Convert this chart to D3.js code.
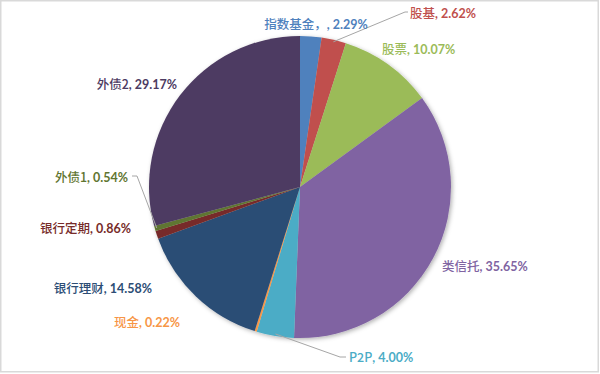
<!DOCTYPE html>
<html>
<head>
<meta charset="utf-8">
<script src="https://cdn.jsdelivr.net/npm/d3@7"></script>
<style>
body { margin: 0; background: #fff; }
</style>
</head>
<body>
<div id="chart"></div>
<script>
var svgWidth = 600;
var svgHeight = 374;

// data
var names = ["指数基金，", "股基", "股票", "类信托", "P2P", "现金", "银行理财", "银行定期", "外债1", "外债2"];
var values = [2.29, 2.62, 10.07, 35.65, 4.00, 0.22, 14.58, 0.86, 0.54, 29.17];
var colors = ["#4F81BD", "#C0504D", "#9BBB59", "#8064A2", "#4BACC6", "#F79646", "#2C4D75", "#772C2A", "#5F7530", "#4D3B62"];

// label placement: x, baseline y, anchor
var labelAt = [
  [316, 29, "middle"], [410, 18, "start"], [382, 54, "start"], [442, 271, "start"],
  [349, 362, "start"], [180, 327, "end"], [152, 293, "end"], [131, 233, "end"],
  [128, 182, "end"], [177, 89, "end"]
];
// leader lines: slice index, elbow x, elbow y, end x
var leaders = [[1, 405, 12, 408], [4, 340, 357, 346], [8, 137, 176, 132]];

var cx = 300, cy = 187, radius = 151;

var svg = d3.select("#chart")
  .append("svg")
  .attr("width", svgWidth)
  .attr("height", svgHeight);

// chart border
svg.append("rect")
  .attr("x", 0.75).attr("y", 0.75)
  .attr("width", 597.5).attr("height", 371)
  .attr("fill", "#fff")
  .attr("stroke", "#d9d9d9")
  .attr("stroke-width", 1.5);

var defs = svg.append("defs");
defs.append("filter")
  .attr("id", "shadow")
  .attr("x", "-10%").attr("y", "-10%").attr("width", "120%").attr("height", "120%")
  .append("feDropShadow")
  .attr("dx", 1.5).attr("dy", 1.5)
  .attr("stdDeviation", 2)
  .attr("flood-color", "#000")
  .attr("flood-opacity", 0.3);

var pie = d3.pie().sort(null).value(d => d);
var arcs = pie(values);

var arc = d3.arc().innerRadius(0).outerRadius(radius);
var edgeArc = d3.arc().innerRadius(radius - 2).outerRadius(radius - 2);

var chartGroup = svg.append("g")
  .attr("transform", `translate(${cx}, ${cy})`);

chartGroup.append("g")
  .attr("filter", "url(#shadow)")
  .selectAll("path")
  .data(arcs)
  .enter()
  .append("path")
  .attr("d", arc)
  .attr("fill", (d, i) => colors[i]);

// leader lines
svg.append("g")
  .selectAll("polyline")
  .data(leaders)
  .enter()
  .append("polyline")
  .attr("points", function(l) {
    var p = edgeArc.centroid(arcs[l[0]]);
    return [[p[0] + cx, p[1] + cy], [l[1], l[2]], [l[3], l[2]]].map(q => q.join(",")).join(" ");
  })
  .attr("fill", "none")
  .attr("stroke", "#a6a6a6")
  .attr("stroke-width", 1);

// labels
var labels = svg.append("g")
  .selectAll("text")
  .data(arcs)
  .enter()
  .append("text")
  .attr("x", (d, i) => labelAt[i][0])
  .attr("y", (d, i) => labelAt[i][1])
  .attr("text-anchor", (d, i) => labelAt[i][2])
  .attr("font-size", 12.5)
  .style("fill", (d, i) => colors[i]);

labels.append("tspan")
  .attr("font-family", "'Noto Sans CJK SC', sans-serif")
  .attr("font-weight", 500)
  .text((d, i) => names[i]);

labels.append("tspan")
  .attr("font-family", "Lato, 'Noto Sans', sans-serif")
  .attr("font-weight", "bold")
  .text(d => ", " + d.data.toFixed(2) + "%");
</script>
</body>
</html>
